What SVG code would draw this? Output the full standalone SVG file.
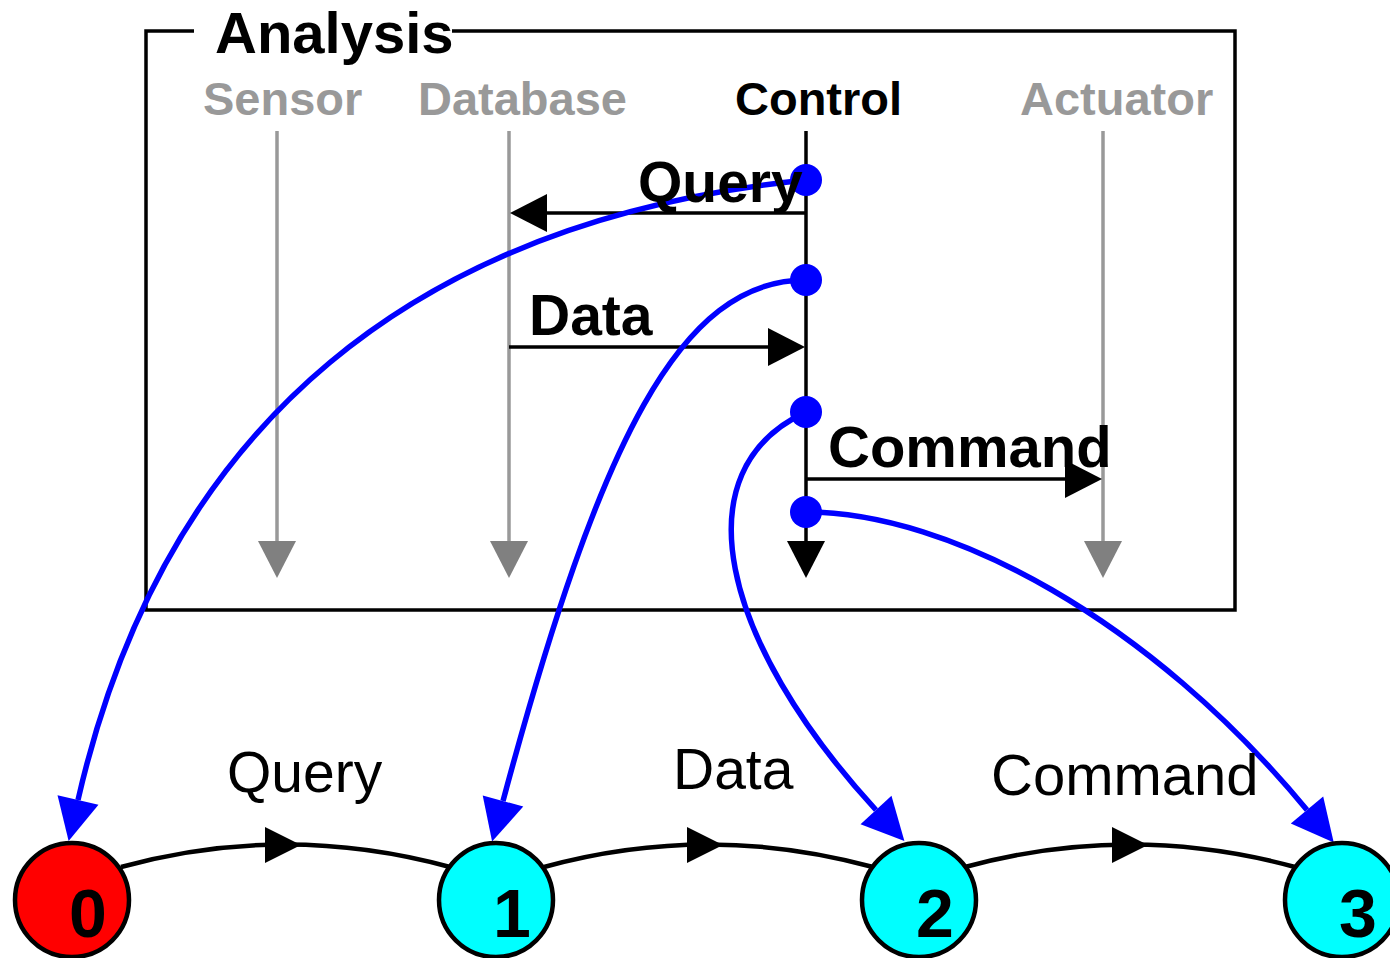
<svg xmlns="http://www.w3.org/2000/svg" xmlns:xlink="http://www.w3.org/1999/xlink" width="1390" height="958" viewBox="0 0 1390 958">
<style>
text{font-family:"Liberation Sans",Arial,Helvetica,sans-serif}
.b{font-weight:bold}
.lane{font-size:47px;font-weight:bold;fill:#999}
.msg{font-size:57px;font-weight:bold;fill:#000}
.lbl{font-size:57px;fill:#000}
.num{font-size:68px;font-weight:bold;fill:#000;text-anchor:middle}
.life{stroke:#999;stroke-width:3.5;fill:none}
.bk{stroke:#000;stroke-width:3.5;fill:none}
.blue{stroke:#0000ff;stroke-width:5.5;fill:none;marker-end:url(#ba)}
.edge{stroke:#000;stroke-width:4.5;fill:none}
.node{stroke:#000;stroke-width:4.5}
</style>
<defs>
<marker id="ba" markerUnits="userSpaceOnUse" markerWidth="44" markerHeight="44" refX="0" refY="0" viewBox="0 -22 44 44" orient="auto" overflow="visible"><path d="M0,-21 L42,0 L0,21 z" fill="#0000ff"/></marker>
<path id="down" d="M-19,-37 L19,-37 L0,0 z"/>
<path id="right" d="M-37,-19 L0,0 L-37,19 z"/>
<path id="left" d="M37,-19 L0,0 L37,19 z"/>
<path id="eh" d="M-36,-18 L0,0 L-36,18 z"/>
</defs>
<g id="frame">
<path d="M194,31 H146 V610 H1235 V31 H452" fill="none" stroke="#000" stroke-width="3.5"/>
<text x="215" y="53" class="b" font-size="58">Analysis</text>
</g>
<g id="lifelines">
<text x="203" y="115" class="lane">Sensor</text>
<text x="418" y="115" class="lane">Database</text>
<text x="735" y="115" class="lane" style="fill:#000">Control</text>
<text x="1020" y="115" class="lane">Actuator</text>
<line x1="277" y1="131" x2="277" y2="545" class="life"/>
<use xlink:href="#down" x="277" y="578" fill="#808080"/>
<line x1="509" y1="131" x2="509" y2="545" class="life"/>
<use xlink:href="#down" x="509" y="578" fill="#808080"/>
<line x1="1103" y1="131" x2="1103" y2="545" class="life"/>
<use xlink:href="#down" x="1103" y="578" fill="#808080"/>
<line x1="806" y1="131" x2="806" y2="545" class="bk"/>
<use xlink:href="#down" x="806" y="578" fill="#000"/>
</g>
<g id="messages">
<line x1="806" y1="213" x2="540" y2="213" class="bk"/>
<use xlink:href="#left" x="510" y="213" fill="#000"/>
<line x1="509" y1="347" x2="775" y2="347" class="bk"/>
<use xlink:href="#right" x="805" y="347" fill="#000"/>
<line x1="806" y1="479" x2="1072" y2="479" class="bk"/>
<use xlink:href="#right" x="1102" y="479" fill="#000"/>
</g>
<g id="connectors">
<path class="blue" d="M806,180 C420,220 165,420 78,800"/>
<path class="blue" d="M806,280 C680,280 600,440 503,801"/>
<path class="blue" d="M806,412 C680,470 720,640 876,810"/>
<path class="blue" d="M806,512 C950,512 1150,620 1307,810"/>
<path class="edge" d="M121,867 Q285,822 450,867"/>
<use xlink:href="#eh" x="301" y="845" fill="#000"/>
<path class="edge" d="M544,867 Q708,822 873,867"/>
<use xlink:href="#eh" x="723" y="845" fill="#000"/>
<path class="edge" d="M965,867 Q1130,822 1295,867"/>
<use xlink:href="#eh" x="1148" y="845" fill="#000"/>
</g>
<g id="dots" fill="#0000ff">
<circle cx="806" cy="180" r="16"/>
<circle cx="806" cy="280" r="16"/>
<circle cx="806" cy="412" r="16"/>
<circle cx="806" cy="512" r="16"/>
</g>
<g id="msglabels">
<text x="638" y="202" class="msg">Query</text>
<text x="529" y="335" class="msg">Data</text>
<text x="828" y="467" class="msg" style="font-size:58px">Command</text>
</g>
<g id="edgelabels">
<text x="227" y="792" class="lbl">Query</text>
<text x="673" y="789" class="lbl">Data</text>
<text x="991" y="795" class="lbl" style="font-size:58px">Command</text>
</g>
<g id="n0"><circle cx="72" cy="900" r="57" fill="#ff0000" class="node"/><text x="88" y="937" class="num">0</text></g>
<g id="n1"><circle cx="496" cy="900" r="57" fill="#00ffff" class="node"/><text x="512" y="937" class="num">1</text></g>
<g id="n2"><circle cx="919" cy="900" r="57" fill="#00ffff" class="node"/><text x="935" y="937" class="num">2</text></g>
<g id="n3"><circle cx="1342" cy="900" r="57" fill="#00ffff" class="node"/><text x="1358" y="937" class="num">3</text></g>
</svg>
